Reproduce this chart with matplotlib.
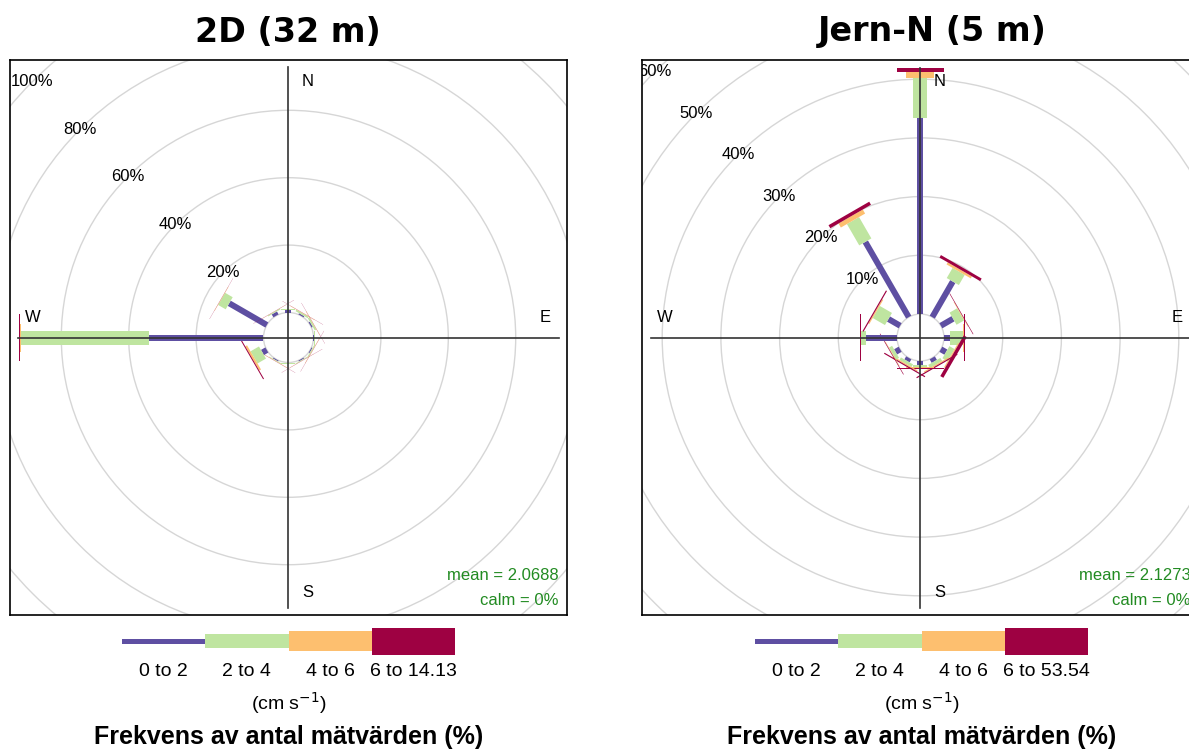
import numpy as np
import matplotlib
matplotlib.use('Agg')
from matplotlib import pyplot as plt
from matplotlib.patches import Polygon, Circle

plt.rcParams['font.family'] = ['Liberation Sans', 'DejaVu Sans']

# wind direction bins (degrees, 30 deg sectors)
dirs = [0, 30, 60, 90, 120, 150, 180, 210, 240, 270, 300, 330]

# 2D (32 m) - frequency (%) per speed class and direction
d2_0to2 = [0.7, 0.4, 0.4, 0.1, 0.3, 0.3, 0.2, 0.3, 1.5, 34.1, 12.9, 1.0]
d2_2to4 = [0.3, 0.5, 0.5, 0.2, 0.3, 0.2, 0.1, 0.2, 2.9, 38.0, 2.6, 0.3]
d2_4to6 = [0.05, 0.1, 0.1, 0.05, 0.1, 0.05, 0.05, 0.1, 0.6, 0.2, 0.1, 0.05]
d2_6up = [0.05, 0.05, 0.05, 0.1, 0.05, 0.05, 0.05, 0.05, 0.3, 0.2, 0.05, 0.05]

# Jern-N (5 m)
jn_0to2 = [33.4, 7.0, 2.4, 1.0, 1.0, 0.7, 0.6, 0.6, 0.9, 5.2, 2.3, 14.8]
jn_2to4 = [6.8, 2.0, 1.5, 2.2, 1.0, 0.6, 0.4, 0.5, 0.6, 0.9, 2.4, 4.2]
jn_4to6 = [1.0, 0.4, 0.1, 0.2, 0.2, 0.2, 0.2, 0.2, 0.1, 0.1, 0.2, 0.8]
jn_6up = [0.7, 0.5, 0.1, 0.2, 0.6, 0.2, 0.2, 0.2, 0.1, 0.1, 0.2, 0.6]

d2_labels = ['0 to 2', '2 to 4', '4 to 6', '6 to 14.13']
jn_labels = ['0 to 2', '2 to 4', '4 to 6', '6 to 53.54']
d2_levels = [20, 40, 60, 80, 100]
jn_levels = [10, 20, 30, 40, 50, 60]

cols = ['#5E4FA2', '#BFE5A0', '#FDBF6F', '#9E0142']
paddle_w = [6, 14, 28, 47]      # px
legend_h = [5, 14, 20, 27]      # px

W_PX, H_PX = 1189, 749
fig = plt.figure(figsize=(W_PX / 100, H_PX / 100), dpi=100)


def fig_ax(x0, y0, x1, y1):
    return fig.add_axes([x0 / W_PX, 1 - y1 / H_PX, (x1 - x0) / W_PX, (y1 - y0) / H_PX])


def rose(ax, classes, pxpp, off_px, levels, mean_txt):
    p = lambda v: v / pxpp   # pixels -> percent units
    off = p(off_px)
    ax.set_xlim(-p(278.5), p(278.5))
    ax.set_ylim(-p(277.5), p(277.5))
    ax.set_xticks([])
    ax.set_yticks([])
    for sp in ax.spines.values():
        sp.set_linewidth(1.2)

    # grid circles + labels
    ax.add_patch(Circle((0, 0), off, fill=False, ec='#D6D6D6', lw=1))
    for lev in levels:
        r = off + lev
        ax.add_patch(Circle((0, 0), r, fill=False, ec='#D6D6D6', lw=1))
        ax.text(-r * np.sqrt(0.5), r * np.sqrt(0.5), f'{lev}%', ha='center', va='center',
                fontsize=12, clip_on=True)

    ax.plot([0, 0], [-p(270), p(270)], color='#333333', lw=1.2)
    ax.plot([-p(270), p(270)], [0, 0], color='#333333', lw=1.2)

    # paddles
    cum = np.cumsum(np.array(classes), axis=0)
    for j, d in enumerate(dirs):
        b = np.deg2rad(d)
        u = np.array([np.sin(b), np.cos(b)])
        n = np.array([np.cos(b), -np.sin(b)])
        lo = 0
        for k in range(4):
            hi = cum[k, j]
            h = p(paddle_w[k]) / 2
            a, z = u * (off + lo), u * (off + hi)
            ax.add_patch(Polygon([a + n * h, z + n * h, z - n * h, a - n * h], closed=True,
                                 fc=cols[k], ec='none', lw=0))
            lo = hi

    ax.text(p(19), p(256), 'N', ha='center', va='center', fontsize=12)
    ax.text(p(19), -p(255), 'S', ha='center', va='center', fontsize=12)
    ax.text(-p(256), p(20), 'W', ha='center', va='center', fontsize=12)
    ax.text(p(257), p(20), 'E', ha='center', va='center', fontsize=12)

    ax.text(p(270), -p(238), mean_txt, ha='right', va='center', fontsize=12, color='#228B22')
    ax.text(p(270), -p(263), 'calm = 0%', ha='right', va='center', fontsize=12, color='#228B22')


def legend(x0, labels):
    lax = fig_ax(x0, 626, x0 + 333, 656)
    lax.set_xlim(0, 4)
    lax.set_ylim(-15, 15)
    lax.axis('off')
    for k in range(4):
        lax.barh(0, 1, left=k, height=legend_h[k], color=cols[k], lw=0)
        fig.text((x0 + 83.25 * (k + 0.5)) / W_PX, 1 - 672 / H_PX, labels[k],
                 ha='center', va='center', fontsize=14)
    fig.text((x0 + 166.5) / W_PX, 1 - 703 / H_PX, '(cm s$^{-1}$)',
             ha='center', va='center', fontsize=14)
    fig.text((x0 + 166.5) / W_PX, 1 - 737 / H_PX, 'Frekvens av antal mätvärden (%)',
             ha='center', va='center', fontsize=18, fontweight='bold')


# Panel 1
ax1 = fig_ax(10, 60, 567, 615)
rose(ax1, [d2_0to2, d2_2to4, d2_4to6, d2_6up], 3.37, 25, d2_levels, 'mean = 2.0688')
fig.text(288 / W_PX, 1 - 32 / H_PX, '2D (32 m)', ha='center', va='center',
         fontsize=24, fontweight='bold', family='DejaVu Sans')
legend(122, d2_labels)

# Panel 2
ax2 = fig_ax(642, 60, 1199, 615)
rose(ax2, [jn_0to2, jn_2to4, jn_4to6, jn_6up], 5.87, 23.5, jn_levels, 'mean = 2.1273')
fig.text(932 / W_PX, 1 - 32 / H_PX, 'Jern-N (5 m)', ha='center', va='center',
         fontsize=24, fontweight='bold', family='DejaVu Sans')
legend(755, jn_labels)

fig.savefig('out.png', dpi=100)
